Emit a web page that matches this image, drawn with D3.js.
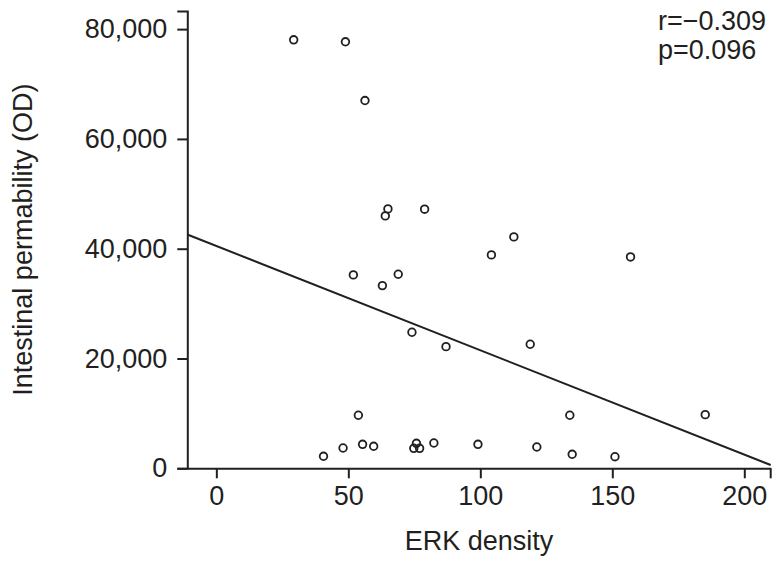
<!DOCTYPE html>
<html><head><meta charset="utf-8">
<script src="https://cdn.jsdelivr.net/npm/d3@7"></script>
<style>
html,body{margin:0;padding:0;background:#fff;}
svg{display:block;font-family:"Liberation Sans",Arial,Helvetica,sans-serif;}
</style></head>
<body>
<svg id="chart" width="782" height="566"></svg>
<script>
// ERK density (x) values
const erkDensity = [29.3, 48.9, 56.3, 65.0, 64.0, 78.9, 112.7, 104.2, 156.9, 51.9,
  68.9, 62.9, 74.1, 87.0, 118.9, 53.8, 133.9, 185.2, 40.6, 48.0,
  55.4, 59.6, 75.8, 74.8, 77.0, 82.4, 99.1, 121.4, 134.8, 151.0];
// Intestinal permeability (OD) values
const permeability = [78050, 77690, 66990, 47250, 45980, 47200, 42150, 38870, 38500, 35230,
  35350, 33280, 24780, 22160, 22600, 9660, 9660, 9770, 2190, 3700,
  4370, 4010, 4550, 3640, 3640, 4610, 4370, 3880, 2550, 2110];
const xTicks = [0, 50, 100, 150, 200];
const yTicks = [0, 20000, 40000, 60000, 80000];
const xDomain = [-11, 210];
const yDomain = [0, 83300];
const fitIntercept = 40500;
const fitSlope = -190;
const annotations = ["r=\u22120.309", "p=0.096"];
const xTitle = "ERK density";
const yTitle = "Intestinal permability (OD)";

const ink = "#231f20";
const svg = d3.select("#chart");
const x = d3.scaleLinear().domain(xDomain).range([187.3, 770.7]);
const y = d3.scaleLinear().domain(yDomain).range([468.3, 11]);
const fmt = d3.format(",");

// X axis
const gx = svg.append("g").attr("transform", `translate(0,${y(0)})`)
  .call(d3.axisBottom(x).tickValues(xTicks).tickSize(10).tickSizeOuter(0).tickPadding(8).tickFormat(d => d));
gx.select(".domain").attr("stroke", ink).attr("stroke-width", 2);
gx.selectAll(".tick line").attr("stroke", ink).attr("stroke-width", 2);
gx.selectAll(".tick text").attr("fill", ink).attr("font-size", 27).attr("font-family", "Liberation Sans, Arial, sans-serif");
gx.append("line").attr("x1", x(xDomain[1])).attr("x2", x(xDomain[1])).attr("y1", 0).attr("y2", 10)
  .attr("stroke", ink).attr("stroke-width", 2);

// Y axis
const gy = svg.append("g").attr("transform", `translate(${x(xDomain[0])},0)`)
  .call(d3.axisLeft(y).tickValues(yTicks).tickSize(10).tickSizeOuter(10).tickPadding(10).tickFormat(fmt));
gy.select(".domain").attr("stroke", ink).attr("stroke-width", 2);
gy.selectAll(".tick line").attr("stroke", ink).attr("stroke-width", 2);
gy.selectAll(".tick text").attr("fill", ink).attr("font-size", 27).attr("font-family", "Liberation Sans, Arial, sans-serif");

// Regression line
svg.append("line")
  .attr("x1", x(xDomain[0])).attr("y1", y(fitIntercept + fitSlope * xDomain[0]))
  .attr("x2", x(xDomain[1])).attr("y2", y(fitIntercept + fitSlope * xDomain[1]))
  .attr("stroke", ink).attr("stroke-width", 2);

// Points
svg.append("g").selectAll("circle")
  .data(erkDensity.map((v, i) => [v, permeability[i]]))
  .join("circle")
  .attr("cx", d => x(d[0])).attr("cy", d => y(d[1])).attr("r", 3.8)
  .attr("fill", "none").attr("stroke", ink).attr("stroke-width", 1.8);

// Titles
svg.append("text").attr("x", (x.range()[0] + x.range()[1]) / 2).attr("y", 550)
  .attr("text-anchor", "middle").attr("font-size", 27).attr("fill", ink).text(xTitle);
svg.append("text").attr("transform", `translate(32,${(y.range()[0] + y.range()[1]) / 2}) rotate(-90)`)
  .attr("text-anchor", "middle").attr("font-size", 27).attr("fill", ink).text(yTitle);

// Annotation
svg.append("g").selectAll("text").data(annotations).join("text")
  .attr("x", 658).attr("y", (d, i) => 29.5 + i * 29)
  .attr("font-size", 27).attr("fill", ink).text(d => d);
</script>
</body></html>
